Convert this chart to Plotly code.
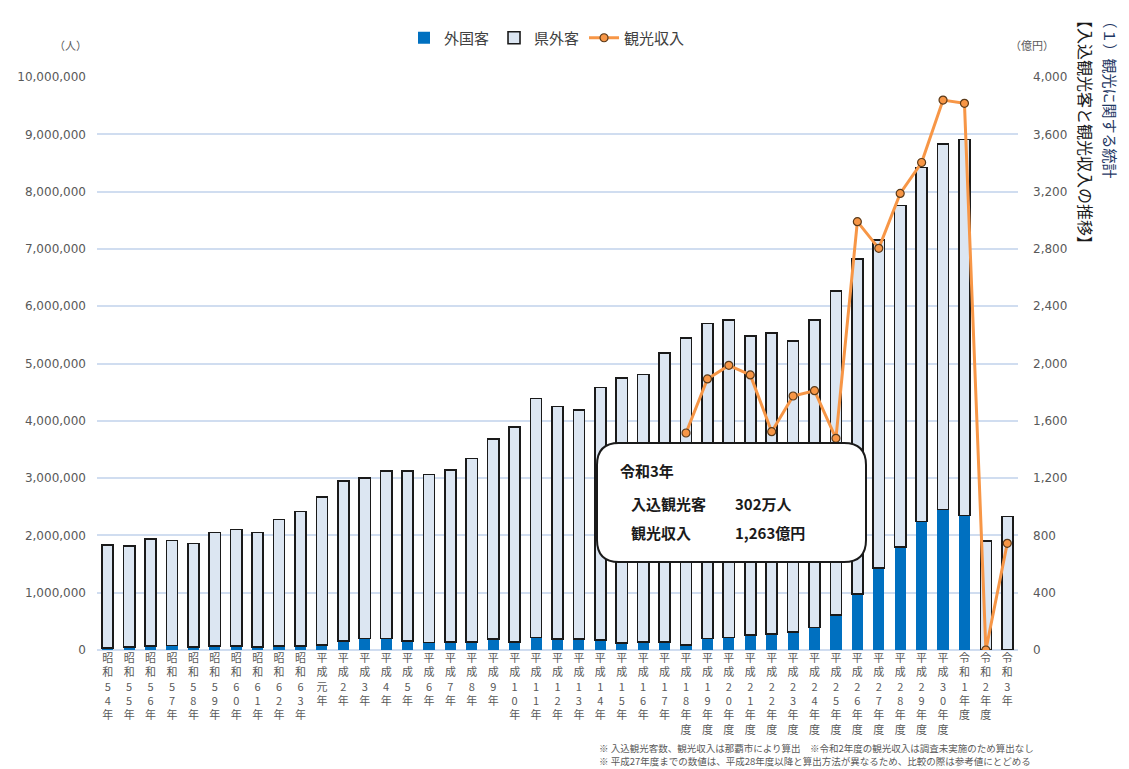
import plotly.graph_objects as go

categories = [
    "昭和54年", "昭和55年", "昭和56年", "昭和57年", "昭和58年", "昭和59年", "昭和60年",
    "昭和61年", "昭和62年", "昭和63年", "平成元年", "平成2年", "平成3年", "平成4年",
    "平成5年", "平成6年", "平成7年", "平成8年", "平成9年", "平成10年", "平成11年",
    "平成12年", "平成13年", "平成14年", "平成15年", "平成16年", "平成17年",
    "平成18年度", "平成19年度", "平成20年度", "平成21年度", "平成22年度", "平成23年度",
    "平成24年度", "平成25年度", "平成26年度", "平成27年度", "平成28年度", "平成29年度",
    "平成30年度", "令和1年度", "令和2年度", "令和3年",
]

total_visitors = [
    1830000, 1820000, 1940000, 1910000, 1860000, 2050000, 2100000, 2050000, 2280000, 2420000,
    2670000, 2950000, 3000000, 3120000, 3120000, 3060000, 3140000, 3340000, 3680000, 3890000,
    4390000, 4250000, 4190000, 4580000, 4750000, 4810000, 5180000,
    5450000, 5700000, 5760000, 5480000, 5530000, 5390000, 5760000, 6270000, 6820000,
    7160000, 7760000, 8420000, 8830000, 8910000, 1900000, 2330000,
]

foreign_visitors = [
    30000, 50000, 70000, 80000, 50000, 70000, 70000, 50000, 70000, 70000,
    90000, 160000, 200000, 200000, 160000, 130000, 140000, 140000, 190000, 140000,
    220000, 190000, 190000, 170000, 120000, 140000, 140000,
    90000, 200000, 220000, 260000, 280000, 310000, 390000, 610000, 980000,
    1430000, 1800000, 2240000, 2450000, 2350000, 0, 0,
]

domestic_visitors = [t - f for t, f in zip(total_visitors, foreign_visitors)]

tourism_revenue = [None] * 27 + [
    1515, 1892, 1987, 1920, 1524, 1773, 1810, 1478, 2990, 2804,
    3187, 3403, 3839, 3816, 0, 745,
]

tick_labels = ["<br>".join(list(c)) for c in categories]

fig = go.Figure()

fig.add_trace(go.Bar(
    x=categories, y=foreign_visitors, name="外国客",
    marker=dict(color="#0070C0", line=dict(color="#0070C0", width=0)),
))
fig.add_trace(go.Bar(
    x=categories, y=domestic_visitors, name="県外客",
    marker=dict(color="#DCE6F2", line=dict(color="#1A1A1A", width=1.6)),
))
fig.add_trace(go.Scatter(
    x=categories, y=tourism_revenue, name="観光収入", yaxis="y2",
    mode="lines+markers", connectgaps=False,
    line=dict(color="#F79646", width=3),
    marker=dict(size=8, color="#F79646", line=dict(color="#5A3A1A", width=1.2)),
))

# page body margin offsets the figure by 8px; work in screen coordinates
OFF = 8
W, H = 1129 - OFF, 769 - OFF
SL, ST, SR, SB = 97, 77, 1018, 650   # plot area in screen pixels
L, T = SL - OFF, ST - OFF
R, B = W - (SR - OFF), H - (SB - OFF)
pw, ph = SR - SL, SB - ST

def px(x):
    return (x - SL) / pw

def py(y):
    return (SB - y) / ph

tick_font = dict(family="DejaVu Sans, Verdana, sans-serif", size=12, color="#595959")

fig.update_layout(
    width=W, height=H,
    margin=dict(l=L, r=R, t=T, b=B, autoexpand=False),
    paper_bgcolor="white", plot_bgcolor="white",
    barmode="stack", bargap=0.48,
    font=dict(family="Noto Sans CJK JP", color="#404040"),
    showlegend=True,
    legend=dict(
        orientation="h", x=px(547), xanchor="center", y=py(38), yanchor="middle",
        font=dict(family="Noto Sans CJK JP", size=15, color="#404040"),
        traceorder="normal",
    ),
    xaxis=dict(
        tickmode="array", tickvals=categories, ticktext=tick_labels,
        range=[-0.5, len(categories) - 0.5], autorange=False,
        tickangle=0, showgrid=False, showline=False, ticks="", automargin=False,
        tickfont=dict(family="Noto Sans CJK JP", size=11, color="#595959"),
    ),
    yaxis=dict(
        range=[0, 10000000], dtick=1000000, tickformat=",", automargin=False,
        showgrid=True, gridcolor="#D0DDF0", gridwidth=2,
        zeroline=True, zerolinecolor="#D0DDF0", zerolinewidth=2,
        tickfont=tick_font, ticks="", ticklabelstandoff=10,
    ),
    yaxis2=dict(
        range=[0, 4000], dtick=400, tickformat=",", automargin=False,
        overlaying="y", side="right", showgrid=False, zeroline=False,
        tickfont=tick_font, ticks="", ticklabelstandoff=14,
    ),
)

def note(x, y, text, size, color, xanchor="center", yanchor="middle", angle=0):
    return dict(x=px(x), y=py(y), text=text, showarrow=False, xref="paper", yref="paper",
                xanchor=xanchor, yanchor=yanchor, textangle=angle,
                font=dict(size=size, color=color))

annotations = [
    note(70, 45, "（人）", 11, "#595959"),
    note(1032, 45, "（億円）", 11, "#595959"),
    note(1110, 11, "（１）観光に関する統計", 15, "#1F3864", yanchor="top", angle=90),
    note(1086, 10, "【入込観光客と観光収入の推移】", 16, "#1A1A1A", yanchor="top", angle=90),
    note(618, 470, "<b>令和3年</b>", 15, "#1A1A1A", xanchor="left"),
    note(629, 503, "<b>入込観光客</b>", 15, "#1A1A1A", xanchor="left"),
    note(733, 503, "<b>302万人</b>", 15, "#1A1A1A", xanchor="left"),
    note(629, 532, "<b>観光収入</b>", 15, "#1A1A1A", xanchor="left"),
    note(733, 532, "<b>1,263億円</b>", 15, "#1A1A1A", xanchor="left"),
    note(597, 748, "※ 入込観光客数、観光収入は那覇市により算出　※令和2年度の観光収入は調査未実施のため算出なし",
         9.5, "#595959", xanchor="left"),
    note(597, 761, "※ 平成27年度までの数値は、平成28年度以降と算出方法が異なるため、比較の際は参考値にとどめる",
         9.5, "#595959", xanchor="left"),
]
fig.update_layout(annotations=annotations)

# rounded callout box
x0, x1, y0, y1 = px(597), px(866), py(562), py(443)
rx, ry = 22 / pw, 22 / ph
path = (
    f"M {x0+rx},{y0} L {x1-rx},{y0} Q {x1},{y0} {x1},{y0+ry} "
    f"L {x1},{y1-ry} Q {x1},{y1} {x1-rx},{y1} "
    f"L {x0+rx},{y1} Q {x0},{y1} {x0},{y1-ry} "
    f"L {x0},{y0+ry} Q {x0},{y0} {x0+rx},{y0} Z"
)
fig.add_shape(type="path", path=path, xref="paper", yref="paper",
              fillcolor="white", line=dict(color="#1A1A1A", width=2), layer="above")

fig.write_html("out.html")
